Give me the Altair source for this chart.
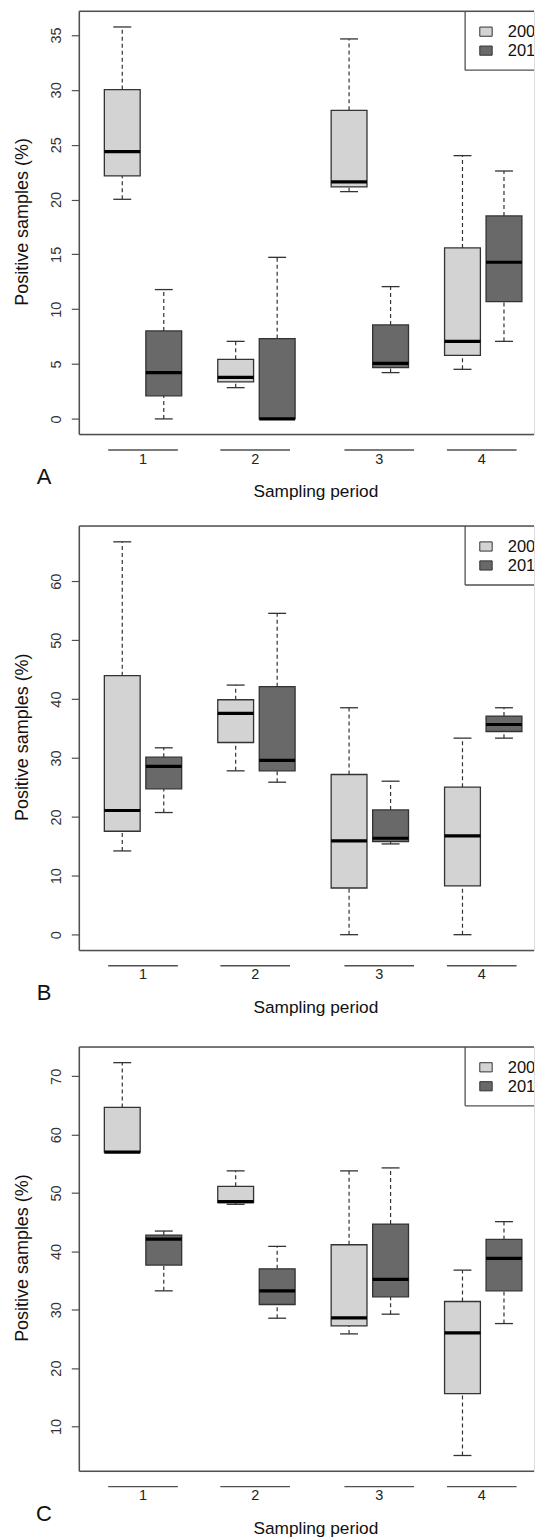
import altair as alt
import pandas as pd

FONT = "Liberation Sans"

periods = [1, 2, 3, 4]
years = ["2009", "2010"]
period_labels = ["1", "2", "3", "4"]
label_pos = [1.0, 1.989, 3.083, 3.987]

# order: (p1,2009),(p1,2010),(p2,2009),(p2,2010),...
a_low = [20.02, 0.0, 2.85, 0.0, 20.72, 4.22, 4.52, 7.07]
a_q1 = [22.15, 2.10, 3.37, 0.0, 21.15, 4.68, 5.80, 10.69]
a_med = [24.37, 4.22, 3.79, 0.0, 21.60, 5.07, 7.07, 14.28]
a_q3 = [30.02, 8.02, 5.43, 7.32, 28.13, 8.57, 15.59, 18.50]
a_high = [35.73, 11.79, 7.07, 14.73, 34.64, 12.06, 24.00, 22.60]

b_low = [14.22, 20.74, 27.82, 25.89, 0.0, 15.41, 0.0, 33.37]
b_q1 = [17.56, 24.76, 32.63, 27.82, 7.93, 15.81, 8.27, 34.50]
b_med = [21.08, 28.56, 37.56, 29.58, 15.92, 16.37, 16.77, 35.69]
b_q3 = [43.97, 30.14, 39.89, 42.10, 27.20, 21.19, 25.04, 37.11]
b_high = [66.70, 31.73, 42.38, 54.56, 38.53, 26.06, 33.37, 38.53]

c_low = [57.0, 33.24, 48.07, 28.55, 25.86, 29.24, 5.02, 27.63]
c_q1 = [57.0, 37.65, 48.36, 30.90, 27.23, 32.21, 15.61, 33.24]
c_med = [57.0, 42.12, 48.53, 33.24, 28.60, 35.19, 26.03, 38.80]
c_q3 = [64.67, 42.80, 51.16, 37.02, 41.14, 44.69, 31.41, 42.06]
c_high = [72.35, 43.49, 53.80, 40.86, 53.80, 54.31, 36.79, 45.10]

a_ticks = [0, 5, 10, 15, 20, 25, 30, 35]
b_ticks = [0, 10, 20, 30, 40, 50, 60]
c_ticks = [10, 20, 30, 40, 50, 60, 70]

W = 455.5
PX_PER_UNIT = 113.6
XDOM = [0.438, 0.438 + W / PX_PER_UNIT]
OFF, HALF, CAP, SEG = 0.183, 0.158, 0.079, 0.307
FRAME = "#505050"
BOXLINE = "#333333"
FILLS = ["#D3D3D3", "#696969"]


def make_df(low, q1, med, q3, high):
    rows = []
    for i, p in enumerate(periods):
        for j, yr in enumerate(years):
            k = 2 * i + j
            rows.append(dict(period=p, year=yr, low=low[k], q1=q1[k],
                             med=med[k], q3=q3[k], high=high[k]))
    df = pd.DataFrame(rows)
    df["pos"] = df["period"] + df["year"].map({"2009": -OFF, "2010": OFF})
    df["left"] = df["pos"] - HALF
    df["right"] = df["pos"] + HALF
    df["cl"] = df["pos"] - CAP
    df["cr"] = df["pos"] + CAP
    return df


one = pd.DataFrame({"a": [0]})
labs = pd.DataFrame({"pos": label_pos, "lab": period_labels})
labs["s0"] = labs["pos"] - SEG
labs["s1"] = labs["pos"] + SEG


def panel(df, yticks, letter, H, title_dy=57.5):
    lo, hi = df["low"].min(), df["high"].max()
    pad = (hi - lo) * 0.04
    xs = alt.Scale(domain=XDOM, nice=False, zero=False)
    ys = alt.Scale(domain=[lo - pad, hi + pad], nice=False, zero=False)
    yaxis = alt.Axis(values=yticks, domain=False, grid=False, tickSize=8,
                     tickColor=FRAME, tickWidth=1.2, labelAngle=270,
                     labelAlign="center", labelBaseline="alphabetic",
                     labelPadding=10.5, labelFontSize=14.5, labelFont=FONT,
                     labelColor="#333333", title=None, labelOverlap=False)

    def X(f):
        return alt.X(f, type="quantitative", scale=xs, axis=None)

    def Y(f):
        return alt.Y(f, type="quantitative", scale=ys, axis=yaxis)

    base = alt.Chart(df)
    layers = []
    # whiskers (dashed) and staples
    layers.append(base.mark_rule(color=BOXLINE, strokeWidth=1.2, strokeDash=[4, 3]).encode(
        x=X("pos"), y=Y("q3"), y2="high"))
    layers.append(base.mark_rule(color=BOXLINE, strokeWidth=1.2, strokeDash=[4, 3]).encode(
        x=X("pos"), y=Y("low"), y2="q1"))
    layers.append(base.mark_rule(color=BOXLINE, strokeWidth=1.3).encode(
        x=X("cl"), x2="cr", y=Y("high")))
    layers.append(base.mark_rule(color=BOXLINE, strokeWidth=1.3).encode(
        x=X("cl"), x2="cr", y=Y("low")))
    # boxes and medians
    layers.append(base.mark_rect(stroke=BOXLINE, strokeWidth=1.3).encode(
        x=X("left"), x2="right", y=Y("q1"), y2="q3",
        color=alt.Color("year:N", scale=alt.Scale(domain=years, range=FILLS), legend=None)))
    layers.append(base.mark_rule(color="black", strokeWidth=3.2).encode(
        x=X("left"), x2="right", y=Y("med")))

    fr = alt.Chart(one)
    # plot frame (left, top, bottom; the right side runs off the page)
    layers.append(fr.mark_rule(color=FRAME, strokeWidth=1.5).encode(
        x=alt.value(0), x2=alt.value(W), y=alt.value(0)))
    layers.append(fr.mark_rule(color=FRAME, strokeWidth=1.5).encode(
        x=alt.value(0), x2=alt.value(W), y=alt.value(H)))
    layers.append(fr.mark_rule(color=FRAME, strokeWidth=1.5).encode(
        x=alt.value(0), y=alt.value(0), y2=alt.value(H)))
    # legend box
    layers.append(fr.mark_rule(color=FRAME, strokeWidth=1.3).encode(
        x=alt.value(386.5), y=alt.value(0), y2=alt.value(59)))
    layers.append(fr.mark_rule(color=FRAME, strokeWidth=1.3).encode(
        x=alt.value(386.5), x2=alt.value(W), y=alt.value(59)))
    for yr, fill, ty in [(years[0], FILLS[0], 20.4), (years[1], FILLS[1], 39.4)]:
        layers.append(fr.mark_rect(fill=fill, stroke=BOXLINE, strokeWidth=1).encode(
            x=alt.value(401.2), x2=alt.value(413.6),
            y=alt.value(ty - 4.6), y2=alt.value(ty + 4.6)))
        layers.append(fr.mark_text(text=yr, align="left", baseline="middle", fontSize=16.5,
                                   font=FONT, color="#111111", clip=True).encode(
            x=alt.value(429.2), y=alt.value(ty + 0.8)))
    # x axis: segments with period labels
    lb = alt.Chart(labs)
    layers.append(lb.mark_rule(color=FRAME, strokeWidth=1.4).encode(
        x=X("s0"), x2="s1", y=alt.value(H + 15.4)))
    layers.append(lb.mark_text(align="center", baseline="middle", fontSize=14.5, font=FONT,
                               color="#222222").encode(
        x=X("pos"), y=alt.value(H + 25), text="lab:N"))
    # titles and panel letter
    layers.append(fr.mark_text(text="Sampling period", align="center", baseline="middle",
                               fontSize=17.3, font=FONT, color="#111111").encode(
        x=alt.value(237), y=alt.value(H + title_dy)))
    layers.append(fr.mark_text(text="Positive samples (%)", align="center", baseline="middle",
                               angle=270, fontSize=18, font=FONT, color="#111111").encode(
        x=alt.value(-56.5), y=alt.value(H / 2 - 1)))
    layers.append(fr.mark_text(text=letter, align="center", baseline="middle",
                               fontSize=22, font=FONT, color="#111111").encode(
        x=alt.value(-35.3), y=alt.value(H + 42.5)))
    return alt.layer(*layers).properties(width=W, height=H)


pA = panel(make_df(a_low, a_q1, a_med, a_q3, a_high), a_ticks, "A", 424)
pB = panel(make_df(b_low, b_q1, b_med, b_q3, b_high), b_ticks, "B", 425)
pC = panel(make_df(c_low, c_q1, c_med, c_q3, c_high), c_ticks, "C", 425)

chart = alt.vconcat(
    pA,
    alt.vconcat(pB, pC, spacing=96.7, bounds="flush"),
    spacing=91.7, bounds="flush",
).properties(
    padding={"left": 5.4, "top": 0, "right": -1, "bottom": 0},
).configure_view(stroke=None).configure(font=FONT)

chart.save("out.html", embed_options={"renderer": "svg", "actions": False})
